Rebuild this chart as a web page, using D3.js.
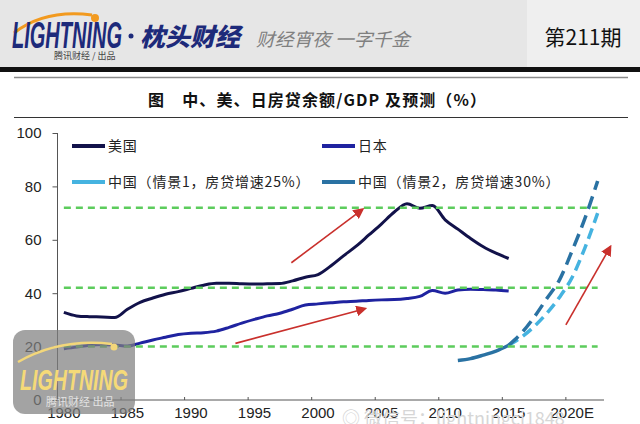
<!DOCTYPE html>
<html><head><meta charset="utf-8">
<script src="https://cdn.jsdelivr.net/npm/d3@7"></script>
<style>body{margin:0;background:#fff;}svg{display:block}</style>
</head><body><svg id="c" width="640" height="424"></svg>
<script>
// ---------------- data ----------------
const categories = d3.range(1980, 2023);            // 1980 ... 2022 (2020E)
const usYears = d3.range(1980, 2016);
const usValues = [32.8,31.5,31.2,31.1,30.9,34,36.6,38.2,39.6,40.6,
                  41.8,43,43.7,43.7,43.5,43.4,43.5,43.6,44.6,46,
                  47,50.2,54,57.6,61.8,66,70.4,73.5,71.8,72.8,
                  67.5,64,60.5,57.4,55,53];
const jpYears = d3.range(1980, 2016);
const jpValues = [19.2,19.8,20.5,20.8,20.6,20.2,21.3,22.5,23.5,24.5,
                  25,25.2,25.8,27.2,28.8,30.2,31.5,32.5,34,35.6,
                  36,36.4,36.8,37,37.3,37.5,37.6,38,38.8,41,
                  40,41.2,41.5,41.4,41.2,40.8];
const cnHistYears = [2011,2012,2013,2014,2015];
const cnHistValues = [14.8,15.5,16.8,18.3,20.5];
const cnForecastYears = [2015,2016,2017,2018,2019,2020,2021,2022];
const cn1Values = [20.5,23.5,27.5,32.5,38.5,46,57,70];   // 情景1
const cn2Values = [20.5,25,31,38,45,56,68,82];           // 情景2
const refLevels = [72,42,20];
const yTicks = [0,20,40,60,80,100];
const xTickYears = [1980,1985,1990,1995,2000,2005,2010,2015,2020];
const xTickLabels = ["1980","1985","1990","1995","2000","2005","2010","2015","2020E"];
const seriesNames = ["美国","日本","中国（情景1，房贷增速25%）","中国（情景2，房贷增速30%）"];
// annotation arrows in data units [year, value]
const arrowsData = [
  [[1997.9,51.4],[2003.5,71.4]],
  [[1993.5,21.2],[2003.7,34.2]],
  [[2019.5,28.1],[2023.0,57.4]]
];

// ---------------- styles ----------------
const C_US = "#12124a", C_JP = "#1f23a0", C_CN1 = "#45b3e0", C_CN2 = "#2a72a3";
const C_REF = "#5ccc5c", C_RED = "#c9302c";

const svg = d3.select("#c");

// header
svg.append("rect").attr("x",0).attr("y",0).attr("width",640).attr("height",68).attr("fill","#e6e6e6");
svg.append("rect").attr("x",527).attr("y",0).attr("width",113).attr("height",68).attr("fill","#efefef");
svg.append("rect").attr("x",0).attr("y",67).attr("width",640).attr("height",5).attr("fill","#111");
svg.append("line").attr("x1",14).attr("x2",628).attr("y1",77.5).attr("y2",77.5).attr("stroke","#8a8a8a").attr("stroke-width",1.5);

svg.append("path").attr("d","M14,33 Q45,9 92,15").attr("fill","none").attr("stroke","#f29a1f").attr("stroke-width",3);
svg.append("circle").attr("cx",95).attr("cy",18).attr("r",4).attr("fill","#f29a1f");
svg.append("text").attr("x",12).attr("y",48).attr("font-family","Liberation Sans, Arial").attr("font-weight","bold")
  .attr("font-style","italic").attr("font-size",36).attr("fill","#1d2a7a").attr("textLength",110).attr("lengthAdjust","spacingAndGlyphs").text("LIGHTNING");
svg.append("text").attr("x",54).attr("y",59).attr("font-family","Noto Sans CJK SC").attr("font-size",9).attr("fill","#444").text("腾讯财经 / 出品");
svg.append("circle").attr("cx",131).attr("cy",36).attr("r",2.5).attr("fill","#1d2a7a");
svg.append("text").attr("x",140).attr("y",46).attr("font-family","Noto Sans CJK SC").attr("font-weight","900")
  .attr("font-style","italic").attr("font-size",25).attr("fill","#1d2a7a").attr("textLength",100).attr("lengthAdjust","spacingAndGlyphs").text("枕头财经");
svg.append("text").attr("x",256).attr("y",46).attr("font-family","Noto Sans CJK SC").attr("font-style","italic")
  .attr("font-size",18).attr("fill","#808080").attr("textLength",154).attr("lengthAdjust","spacingAndGlyphs").text("财经宵夜 一字千金");
svg.append("text").attr("x",583).attr("y",45).attr("text-anchor","middle").attr("font-family","Noto Sans CJK SC")
  .attr("font-size",21).attr("fill","#111").text("第211期");

// title
svg.append("text").attr("x",148).attr("y",106).attr("font-family","Noto Sans CJK SC")
  .attr("font-weight","bold").attr("font-size",16).attr("fill","#111")
  .attr("textLength",338).attr("lengthAdjust","spacing").text("图　中、美、日房贷余额/GDP 及预测（%）");
svg.append("line").attr("x1",14).attr("x2",628).attr("y1",117.5).attr("y2",117.5).attr("stroke","#333").attr("stroke-width",1.2);

// ---------------- scales ----------------
const x = d3.scaleBand().domain(categories).range([57.5,604]).paddingInner(0).paddingOuter(0);
const xl = yr => 57.5 + (yr - 1980) * x.step();      // left edge of a year's band
const xp = yr => xl(yr) + x.step()/2;                 // centre position for a (possibly fractional) year
const y = d3.scaleLinear().domain([0,100]).range([400,133]);

const g = svg.append("g");

// axes
const yAxis = g.append("g").attr("transform","translate(57.5,0)")
  .call(d3.axisLeft(y).tickValues(yTicks).tickSize(5).tickPadding(11));
yAxis.select(".domain").attr("stroke","#555").attr("d","M-0,133V400");
yAxis.selectAll(".tick line").attr("stroke","#555");
yAxis.selectAll("text").attr("font-family","Liberation Sans, Arial").attr("font-size",15).attr("fill","#222");

const xg = g.append("g");
xg.append("line").attr("x1",57.5).attr("x2",604).attr("y1",400).attr("y2",400).attr("stroke","#555");
xg.selectAll("line.t").data(xTickYears).join("line").attr("class","t")
  .attr("x1",d=>xl(d)).attr("x2",d=>xl(d)).attr("y1",400).attr("y2",397).attr("stroke","#555");
xg.selectAll("text").data(xTickYears).join("text")
  .attr("x",d=>xp(d)).attr("y",418).attr("text-anchor","middle")
  .attr("font-family","Liberation Sans, Arial").attr("font-size",15).attr("fill","#222")
  .text((d,i)=>xTickLabels[i]);

// lines
const line = d3.line().x(d=>xp(d[0])).y(d=>y(d[1])).curve(d3.curveMonotoneX);
const zip = (a,b)=>a.map((v,i)=>[v,b[i]]);

g.append("path").attr("d",line(zip(usYears,usValues))).attr("fill","none").attr("stroke",C_US).attr("stroke-width",3);
g.append("path").attr("d",line(zip(jpYears,jpValues))).attr("fill","none").attr("stroke",C_JP).attr("stroke-width",3);
g.append("path").attr("d",line(zip(cnHistYears,cnHistValues))).attr("fill","none").attr("stroke",C_CN2).attr("stroke-width",3.5);
g.append("path").attr("d",line(zip(cnForecastYears,cn1Values))).attr("fill","none").attr("stroke",C_CN1).attr("stroke-width",3.5).attr("stroke-dasharray","11,6");
g.append("path").attr("d",line(zip(cnForecastYears,cn2Values))).attr("fill","none").attr("stroke",C_CN2).attr("stroke-width",3.5).attr("stroke-dasharray","13,7");

// reference lines
g.selectAll("line.ref").data(refLevels).join("line").attr("class","ref")
  .attr("x1",xp(1980)).attr("x2",xp(2022)).attr("y1",d=>y(d)).attr("y2",d=>y(d))
  .attr("stroke",C_REF).attr("stroke-width",2.5).attr("stroke-dasharray","7,5");

// arrows
const defs = svg.append("defs");
defs.append("marker").attr("id","ah").attr("viewBox","0 0 10 10").attr("refX",8).attr("refY",5)
  .attr("markerWidth",11).attr("markerHeight",11).attr("markerUnits","userSpaceOnUse").attr("orient","auto")
  .append("path").attr("d","M0,0L10,5L0,10z").attr("fill",C_RED);
g.selectAll("line.arr").data(arrowsData).join("line").attr("class","arr")
  .attr("x1",d=>xp(d[0][0])).attr("y1",d=>y(d[0][1])).attr("x2",d=>xp(d[1][0])).attr("y2",d=>y(d[1][1]))
  .attr("stroke",C_RED).attr("stroke-width",1.6).attr("marker-end","url(#ah)");

// legend
const legendItems = [
  {name:seriesNames[0], color:C_US, lx:72, ly:146},
  {name:seriesNames[1], color:C_JP, lx:322, ly:146},
  {name:seriesNames[2], color:C_CN1, lx:72, ly:182},
  {name:seriesNames[3], color:C_CN2, lx:322, ly:182}
];
const lg = g.selectAll("g.leg").data(legendItems).join("g").attr("class","leg")
  .attr("transform",d=>`translate(${d.lx},${d.ly})`);
lg.append("line").attr("x1",0).attr("x2",33).attr("stroke",d=>d.color).attr("stroke-width",4);
lg.append("text").attr("x",36).attr("y",5).attr("font-family","Noto Sans CJK SC").attr("font-size",14)
  .attr("letter-spacing",0.8).attr("fill","#222").text(d=>d.name);

// watermarks
svg.append("text").attr("x",342).attr("y",425).attr("font-family","Noto Sans CJK SC").attr("font-size",18)
  .attr("fill","#d6d6d6").text("◎ 微信号：lightningcj1848");
const wm = svg.append("g");
wm.append("rect").attr("x",13).attr("y",330).attr("width",122).attr("height",84).attr("rx",12).attr("fill","#808080").attr("opacity",0.72);
wm.append("path").attr("d","M18,362 Q60,338 112,344").attr("fill","none").attr("stroke","#f3d77a").attr("stroke-width",2.5);
wm.append("circle").attr("cx",114).attr("cy",347).attr("r",3.5).attr("fill","#f3d77a");
wm.append("text").attr("x",20).attr("y",390).attr("font-family","Liberation Sans, Arial").attr("font-weight","bold").attr("font-style","italic")
  .attr("font-size",30).attr("fill","#f5da78").attr("textLength",108).attr("lengthAdjust","spacingAndGlyphs").text("LIGHTNING");
wm.append("text").attr("x",46).attr("y",406).attr("font-family","Noto Sans CJK SC").attr("font-size",11).attr("fill","#e2e2e2").text("腾讯财经  出品");
</script></body></html>
